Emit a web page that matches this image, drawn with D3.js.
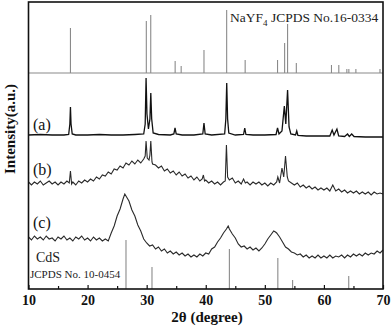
<!DOCTYPE html>
<html><head><meta charset="utf-8">
<script src="https://cdnjs.cloudflare.com/ajax/libs/d3/7.8.5/d3.min.js"></script>
<style>body{margin:0;background:#fff}svg{display:block}text{font-family:"Liberation Serif","Times New Roman",serif}</style>
</head><body><svg id="c" width="391" height="327"></svg>
<script>
// ---- data ----
const xTicks = [10, 20, 30, 40, 50, 60, 70];
const xMinorTicks = [15, 25, 35, 45, 55, 65];
const xLabel = "2θ (degree)";
const yLabel = "Intensity(a.u.)";
const seriesLabels = ["(a)", "(b)", "(c)"];
const nayfRefBase = 216;
const nayfRef = [[17.1,45],[29.94,52],[30.69,58],[34.82,12],[35.84,7],[39.7,23],[43.54,63],[46.67,13],[52.15,13],[53.35,30],[53.85,49],[55.33,10],[61.28,8],[62.52,8],[63.88,4],[64.22,4],[65.41,4],[69.49,4]];
const cdsRef = [[26.5,49],[30.9,22],[44.0,40],[52.2,31],[54.7,9],[64.2,13]];
const seriesA = [[10,154],[12,154.5],[14,154],[16,154],[16.8,154.5],[17.0,165],[17.1,182],[17.2,165],[17.4,155],[18,154],[20,154],[22,154.5],[24,154],[26,154],[28,154.5],[29.5,155],[29.75,165],[29.9,211],[30.05,175],[30.3,160],[30.55,170],[30.7,196],[30.85,170],[31.1,156],[32,154.5],[34,154],[34.6,155],[34.8,161],[35.0,155],[36,154],[38,154],[39.5,155],[39.7,166],[39.9,155],[41,154],[43.2,155],[43.4,170],[43.55,206],[43.7,170],[43.9,156],[45,154],[46.4,154.5],[46.6,161],[46.8,154.5],[48,154],[50,154],[51.9,154.5],[52.15,161],[52.4,155],[52.9,158],[53.3,183],[53.55,165],[53.85,199],[54.1,162],[54.4,155],[55.2,154],[55.4,158],[55.6,153.5],[57,153],[59,153],[61,153],[61.4,159],[61.7,154],[62.2,160],[62.5,153],[63.5,152.5],[64.0,155],[64.3,152.5],[64.7,155],[65.1,152.5],[67,152],[70,152]];
const seriesB = [[10.0,107],[10.5,104],[11.0,107],[11.5,105],[12.0,108],[12.5,104],[13.0,106],[13.5,108],[14.0,105],[14.5,107],[15.0,104],[15.5,107],[16.0,105],[16.5,108],[16.9,106],[17.1,118],[17.3,105],[17.5,107],[18.0,104],[18.5,108],[19.0,106],[19.5,109],[20.0,107],[20.5,110],[21.0,108],[21.5,112],[22.0,110],[22.5,114],[23.0,113],[23.5,117],[24.0,115],[24.5,120],[25.0,119],[25.5,123],[26.0,121],[26.5,126],[27.0,124],[27.5,128],[28.0,125],[28.5,129],[29.0,126],[29.5,130],[29.75,133],[29.9,148],[30.1,131],[30.4,129],[30.55,134],[30.7,148],[30.9,127],[31.0,125],[31.5,124],[32.0,121],[32.5,123],[33.0,118],[33.5,120],[34.0,116],[34.5,118],[35.0,114],[35.5,117],[36.0,113],[36.5,115],[37.0,111],[37.5,113],[38.0,109],[38.5,112],[39.0,108],[39.4,110],[39.6,114],[39.8,108],[40.0,109],[40.5,106],[41.0,108],[41.5,105],[42.0,107],[42.5,104],[43.0,107],[43.3,108],[43.5,144],[43.7,112],[44.0,109],[44.5,111],[45.0,106],[45.5,108],[46.0,105],[46.4,110],[46.7,106],[47.0,107],[47.5,104],[48.0,107],[48.5,105],[49.0,107],[49.5,104],[50.0,106],[50.5,103],[51.0,106],[51.5,104],[52.0,107],[52.2,112],[52.5,106],[52.9,121],[53.2,112],[53.5,133],[53.8,112],[54.0,108],[54.5,106],[55.0,104],[55.5,106],[56.0,102],[56.5,104],[57.0,101],[57.5,103],[58.0,100],[58.5,102],[59.0,99],[59.5,101],[60.0,99],[60.5,101],[61.0,98],[61.5,104],[62.0,98],[62.5,100],[63.0,97],[63.5,99],[64.0,96],[64.5,98],[65.0,96],[65.5,98],[66.0,95],[66.5,97],[67.0,95],[67.5,97],[68.0,94],[68.5,97],[69.0,95],[69.5,96],[70.0,95]];
const seriesC = [[10.0,52],[10.5,49],[11.0,53],[11.5,50],[12.0,52],[12.5,49],[13.0,53],[13.5,50],[14.0,51],[14.5,48],[15.0,52],[15.5,50],[16.0,53],[16.5,49],[17.0,51],[17.5,48],[18.0,52],[18.5,50],[19.0,53],[19.5,49],[20.0,51],[20.5,48],[21.0,52],[21.5,49],[22.0,51],[22.5,48],[23.0,50],[23.5,48],[24.0,56],[24.5,63],[25.0,73],[25.5,80],[26.0,90],[26.3,95],[26.6,92],[27.0,88],[27.5,79],[28.0,73],[28.5,64],[29.0,58],[29.5,50],[30.0,46],[30.5,43],[31.0,44],[31.5,40],[32.0,42],[32.5,38],[33.0,40],[33.5,36],[34.0,38],[34.5,35],[35.0,37],[35.5,34],[36.0,36],[36.5,33],[37.0,35],[37.5,32],[38.0,34],[38.5,32],[39.0,35],[39.5,33],[40.0,36],[40.5,35],[41.0,40],[41.5,42],[42.0,47],[42.5,51],[43.0,56],[43.5,60],[43.8,63],[44.0,60],[44.5,55],[45.0,51],[45.5,45],[46.0,42],[46.5,43],[47.0,40],[47.5,42],[48.0,39],[48.5,41],[49.0,38],[49.5,41],[50.0,45],[50.5,50],[51.0,54],[51.5,58],[51.8,57],[52.0,56],[52.5,52],[53.0,47],[53.5,42],[54.0,40],[54.5,37],[55.0,36],[55.5,34],[56.0,35],[56.5,32],[57.0,34],[57.5,31],[58.0,33],[58.5,31],[59.0,34],[59.5,31],[60.0,33],[60.5,31],[61.0,34],[61.5,31],[62.0,33],[62.5,32],[63.0,34],[63.5,31],[64.0,34],[64.5,32],[65.0,35],[65.5,33],[66.0,35],[66.5,33],[67.0,36],[67.5,34],[68.0,36],[68.5,35],[69.0,38],[69.5,36],[70.0,39]];

// ---- drawing ----
const svg = d3.select("#c");
const L = 28.5, R = 383, T = 2, B = 289;
const x = d3.scaleLinear().domain([10, 70]).range([L, R]);
const y = d3.scaleLinear().domain([0, 287]).range([B, T]);
const stickColor = "#8a8a8a";

// reference sticks NaYF4
svg.append("line").attr("x1", L).attr("x2", R).attr("y1", y(nayfRefBase)).attr("y2", y(nayfRefBase))
  .attr("stroke", stickColor).attr("stroke-width", 1.2);
svg.append("g").selectAll("line").data(nayfRef).join("line")
  .attr("x1", d => x(d[0])).attr("x2", d => x(d[0]))
  .attr("y1", y(nayfRefBase)).attr("y2", d => y(nayfRefBase + d[1]))
  .attr("stroke", stickColor).attr("stroke-width", 1.1);
// CdS sticks
svg.append("g").selectAll("line").data(cdsRef).join("line")
  .attr("x1", d => x(d[0])).attr("x2", d => x(d[0]))
  .attr("y1", y(0)).attr("y2", d => y(d[1]))
  .attr("stroke", stickColor).attr("stroke-width", 1.1);

const line = d3.line().x(d => x(d[0])).y(d => y(d[1]));
svg.append("path").datum(seriesA).attr("d", line).attr("fill", "none").attr("stroke", "#111").attr("stroke-width", 1.3);
svg.append("path").datum(seriesB).attr("d", line).attr("fill", "none").attr("stroke", "#2a2a2a").attr("stroke-width", 1.1);
svg.append("path").datum(seriesC).attr("d", line).attr("fill", "none").attr("stroke", "#2a2a2a").attr("stroke-width", 1.1);

// bottom axis with inward ticks
const ax = svg.append("g").attr("transform", `translate(0,${B})`);
ax.call(d3.axisBottom(x).tickValues(xTicks).tickSizeInner(-4).tickSizeOuter(0).tickPadding(6).tickFormat(d3.format("d")));
ax.select(".domain").remove();
ax.selectAll("text").attr("font-size", 14).attr("font-weight", "bold")
  .attr("font-family", "Liberation Serif, serif").attr("fill", "#111").attr("dy", "0.71em");
ax.selectAll(".tick line").attr("stroke", "#111").attr("stroke-width", 1.2);
svg.append("g").attr("transform", `translate(0,${B})`)
  .call(d3.axisBottom(x).tickValues(xMinorTicks).tickSizeInner(-3).tickSizeOuter(0).tickFormat(""))
  .call(g => g.select(".domain").remove())
  .selectAll(".tick line").attr("stroke", "#111").attr("stroke-width", 1.2);

// frame
svg.append("rect").attr("x", L).attr("y", T).attr("width", R - L).attr("height", B - T)
  .attr("fill", "none").attr("stroke", "#111").attr("stroke-width", 1.6);

// labels
svg.append("text").attr("x", 207).attr("y", 322).attr("text-anchor", "middle")
  .attr("font-size", 15).attr("font-weight", "bold").attr("fill", "#111").text(xLabel);
svg.append("text").attr("transform", "translate(15,129) rotate(-90)").attr("text-anchor", "middle")
  .attr("font-size", 15).attr("font-weight", "bold").attr("fill", "#111").text(yLabel);

const labY = [130, 175, 228];
seriesLabels.forEach((s, i) => svg.append("text").attr("x", 33).attr("y", labY[i])
  .attr("font-size", 16).attr("fill", "#111").text(s));

const t1 = svg.append("text").attr("x", 230).attr("y", 22).attr("font-size", 13.5).attr("fill", "#222");
t1.append("tspan").text("NaYF");
t1.append("tspan").attr("font-size", 9).attr("dy", 4).text("4");
t1.append("tspan").attr("dy", -4).text(" JCPDS No.16-0334");

svg.append("text").attr("x", 36).attr("y", 262).attr("font-size", 14).attr("fill", "#222").text("CdS");
svg.append("text").attr("x", 30).attr("y", 278).attr("font-size", 11).attr("fill", "#222").text("JCPDS No. 10-0454");
</script></body></html>
